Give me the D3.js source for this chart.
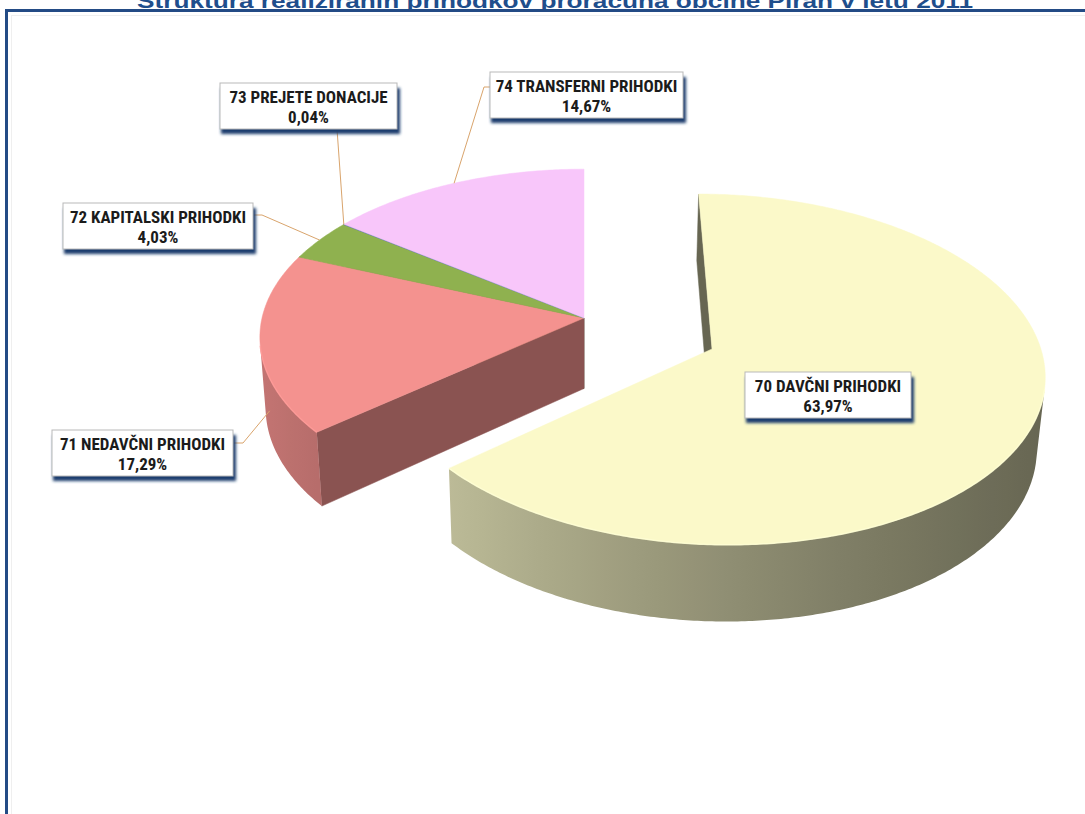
<!DOCTYPE html>
<html>
<head>
<meta charset="utf-8">
<script src="https://cdn.jsdelivr.net/npm/d3@7"></script>
<style>
  body { margin: 0; background: #fff; }
  svg { display: block; }
</style>
</head>
<body>
<svg id="chart" width="1085" height="814"></svg>
<script>
// data
const title = "Struktura realiziranih prihodkov proračuna občine Piran v letu 2011";
const categories = ["70 DAVČNI PRIHODKI", "71 NEDAVČNI PRIHODKI", "72 KAPITALSKI PRIHODKI", "73 PREJETE DONACIJE", "74 TRANSFERNI PRIHODKI"];
const shares = [63.97, 17.29, 4.03, 0.04, 14.67];
const shareLabels = ["63,97%", "17,29%", "4,03%", "0,04%", "14,67%"];
const sliceColors = ["#fbf9c9", "#f4928f", "#8fb14f", "#5b7fb8", "#f8c6fa"];
const explodedSlices = [0];

// label layout: box left, top, width
const labelBoxes = [
  [745, 372, 166],
  [52, 430, 181],
  [63, 203, 190],
  [220, 83, 177],
  [490, 72, 193]
];
// leader lines: start at box, elbow, anchor on slice (depth fraction of side)
const leaders = [
  null,
  { from: [233, 443], elbow: [243, 443], depth: 0.55, frac: 0.35 },
  { from: [253, 215], elbow: [262, 215], depth: 0, frac: 0.5 },
  { from: [337, 129], elbow: [337, 129], depth: 0, frac: 0.5 },
  { from: [490, 87], elbow: [484, 87], depth: 0, frac: 0.5 }
];

const W = 1085, H = 814;
const svg = d3.select("#chart");
const defs = svg.append("defs");

// title (partly hidden behind the frame, as in the original)
svg.append("text")
  .attr("x", 137).attr("y", 8)
  .attr("textLength", 836).attr("lengthAdjust", "spacingAndGlyphs")
  .attr("font-family", "'Liberation Sans', Arial, sans-serif")
  .attr("font-weight", "bold").attr("font-size", "21px")
  .attr("fill", "#1f4e8c")
  .text(title);

// frame
svg.append("rect")
  .attr("x", 6.5).attr("y", 10.5).attr("width", 1100).attr("height", 900)
  .attr("fill", "#fff").attr("stroke", "#234b85").attr("stroke-width", 3);
svg.append("rect")
  .attr("x", 11.5).attr("y", 15.5).attr("width", 1100).attr("height", 900)
  .attr("fill", "none").attr("stroke", "#efefef").attr("stroke-width", 1);

// 3d projection
const cx = 584, cy = 318, k = 322, D = 7.5, depth = 0.26, explode = 0.43;
const phi = 31 * Math.PI / 180, sinP = Math.sin(phi), cosP = Math.cos(phi);
const camZ = D * cosP;

function project(X, Y, Z) {
  const yp = Y * cosP - Z * sinP;
  const zp = Y * sinP + Z * cosP;
  const s = D / (D - zp);
  return [cx + k * X * s, cy - k * yp * s, zp];
}

const arcs = d3.pie().sort(null).value(d => d)(shares);
const slices = arcs.map((a, i) => {
  const mid = (a.startAngle + a.endAngle) / 2;
  const e = explodedSlices.includes(i) ? explode : 0;
  return { i, a0: a.startAngle, a1: a.endAngle, mid, ox: e * Math.sin(mid), oz: -e * Math.cos(mid), color: sliceColors[i], exploded: e > 0 };
});

function pt(s, th, Y) { return project(s.ox + Math.sin(th), Y, s.oz - Math.cos(th)); }
function centre(s, Y) { return project(s.ox, Y, s.oz); }
function samples(a0, a1) {
  const n = Math.max(2, Math.ceil((a1 - a0) / 0.01));
  return d3.range(n + 1).map(j => a0 + (a1 - a0) * j / n);
}
const line = pts => "M" + pts.map(p => p[0].toFixed(2) + "," + p[1].toFixed(2)).join("L") + "Z";
const openLine = pts => "M" + pts.map(p => p[0].toFixed(2) + "," + p[1].toFixed(2)).join("L");
const outerVisible = (s, th) => -1 - s.ox * Math.sin(th) + Math.cos(th) * (s.oz - camZ) > 0;

function drawCluster(list) {
  const g = svg.append("g");
  const walls = [];
  const rims = [];
  list.forEach(s => {
    const base = d3.color(s.color);
    // outer side
    const vis = samples(s.a0, s.a1).filter(th => outerVisible(s, th));
    if (vis.length > 1) {
      const top = vis.map(th => pt(s, th, 0));
      const bot = vis.map(th => pt(s, th, -depth)).reverse();
      const id = "side" + s.i;
      const xs = top.map(p => p[0]);
      const x1 = d3.min(xs), x2 = d3.max(xs);
      const light = base.darker(0.6), dark = base.darker(2.5);
      const stops = vis.map((th, j) => ({
        offset: x2 > x1 ? (top[j][0] - x1) / (x2 - x1) : 0,
        color: d3.interpolateRgb(dark, light)(Math.pow((1 - Math.sin(th)) / 2, 1.3))
      })).filter((d, j) => j % 8 === 0 || j === vis.length - 1)
        .sort((a, b) => a.offset - b.offset);
      defs.append("linearGradient").attr("id", id)
        .attr("gradientUnits", "userSpaceOnUse")
        .attr("x1", x1).attr("x2", x2).attr("y1", 0).attr("y2", 0)
        .selectAll("stop").data(stops).enter().append("stop")
        .attr("offset", d => d.offset).attr("stop-color", d => d.color);
      walls.push({ d: line(top.concat(bot)), fill: "url(#" + id + ")", stroke: "none", z: d3.mean(top, p => p[2]) });
      rims.push({ d: openLine(top), color: base.brighter(0.15) });
    }
    // radial sides
    [[s.a0, -Math.cos(s.a0), -Math.sin(s.a0)], [s.a1, Math.cos(s.a1), Math.sin(s.a1)]].forEach(([th, nx, nz]) => {
      const dot = nx * (-s.ox) + nz * (camZ - s.oz);
      if (dot <= 1e-6 || s.a1 - s.a0 < 0.01) return;
      const pts = [centre(s, 0), pt(s, th, 0), pt(s, th, -depth), centre(s, -depth)];
      const c = base.darker(s.exploded ? 2.5 : 1.6);
      walls.push({ d: line(pts), fill: c, stroke: c, z: d3.mean(pts, p => p[2]) });
    });
  });
  walls.sort((a, b) => a.z - b.z);
  g.selectAll("path.wall").data(walls).enter().append("path")
    .attr("class", "wall").attr("d", d => d.d).attr("fill", d => d.fill)
    .attr("stroke", d => d.stroke).attr("stroke-width", 0.5);
  g.selectAll("path.top").data(list).enter().append("path")
    .attr("class", "top")
    .attr("d", s => line([centre(s, 0)].concat(samples(s.a0, s.a1).map(th => pt(s, th, 0)))))
    .attr("fill", s => s.color).attr("stroke", s => s.color).attr("stroke-width", 0.5);
  g.selectAll("path.rim").data(rims).enter().append("path")
    .attr("class", "rim").attr("d", d => d.d).attr("fill", "none")
    .attr("stroke", d => d.color).attr("stroke-width", 1.5).attr("opacity", 0.8);
}

drawCluster(slices.filter(s => !s.exploded));

// leader lines
leaders.forEach((l, i) => {
  if (!l) return;
  const s = slices[i];
  const th = s.a0 + (s.a1 - s.a0) * l.frac;
  const end = pt(s, th, -depth * l.depth);
  const pts = [l.from, l.elbow, [end[0], end[1]]];
  svg.append("path")
    .attr("d", "M" + pts.map(p => p[0] + "," + p[1]).join("L"))
    .attr("fill", "none").attr("stroke", "#d9a46c").attr("stroke-width", 1);
});

drawCluster(slices.filter(s => s.exploded));

// labels
const blur = defs.append("filter").attr("id", "shadow")
  .attr("x", "-10%").attr("y", "-30%").attr("width", "120%").attr("height", "160%");
blur.append("feGaussianBlur").attr("stdDeviation", 1.6);

const boxH = 46;
const labels = svg.append("g").selectAll("g").data(categories).enter().append("g")
  .attr("transform", (d, i) => "translate(" + labelBoxes[i][0] + "," + labelBoxes[i][1] + ")");
labels.append("rect")
  .attr("x", 1).attr("y", 5).attr("width", (d, i) => labelBoxes[i][2] + 2).attr("height", boxH)
  .attr("fill", "#1d3d6e").attr("filter", "url(#shadow)");
labels.append("rect")
  .attr("width", (d, i) => labelBoxes[i][2]).attr("height", boxH)
  .attr("fill", "#fff").attr("stroke", "#b9b9b9").attr("stroke-width", 1);
const txt = labels.append("text")
  .attr("text-anchor", "middle")
  .attr("font-family", "'Liberation Sans Narrow', 'Arial Narrow', 'Roboto Condensed', 'DejaVu Sans Condensed', sans-serif")
  .attr("font-weight", "bold").attr("font-size", "17px").attr("fill", "#1b1b1b");
txt.append("tspan").attr("x", (d, i) => labelBoxes[i][2] / 2).attr("y", 20).text(d => d);
txt.append("tspan").attr("x", (d, i) => labelBoxes[i][2] / 2).attr("y", 40).text((d, i) => shareLabels[i]);
</script>
</body>
</html>
